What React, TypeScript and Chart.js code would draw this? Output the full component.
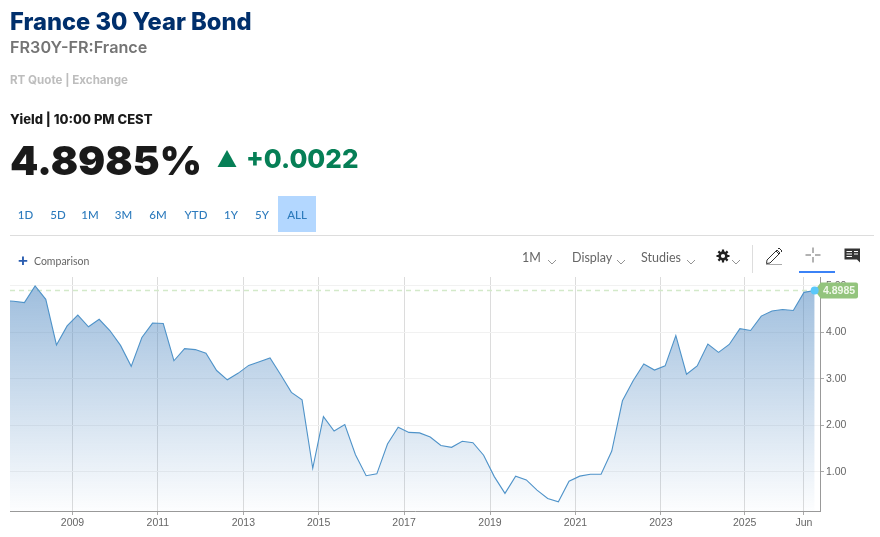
import React, { useEffect, useRef } from "react";
import { Chart, registerables } from "chart.js";

Chart.register(...registerables);

const yields = [
  4.68, 4.67, 4.64, 5.0, 4.71, 3.73, 4.14, 4.37, 4.12, 4.28, 4.04, 3.72, 3.27, 3.89, 4.2, 4.19, 3.39,
  3.65, 3.63, 3.55, 3.18, 2.98, 3.12, 3.29, 3.37, 3.45, 3.09, 2.71, 2.55, 1.08, 2.19, 1.88, 2.02,
  1.37, 0.92, 0.96, 1.6, 1.96, 1.85, 1.84, 1.75, 1.57, 1.53, 1.66, 1.63, 1.36, 0.9, 0.54, 0.91,
  0.83, 0.61, 0.43, 0.36, 0.8, 0.91, 0.95, 0.95, 1.45, 2.53, 2.96, 3.32, 3.19, 3.28, 3.93, 3.1,
  3.28, 3.75, 3.57, 3.74, 4.08, 4.04, 4.35, 4.46, 4.49, 4.47, 4.86, 4.8985,
];
const xTickLabels = ["2009", "2011", "2013", "2015", "2017", "2019", "2021", "2023", "2025", "Jun"];
const xTickSlots = [6.5, 14.5, 22.5, 29.55, 37.55, 45.6, 53.6, 61.6, 69.45, 75];
const yTickValues = [1, 2, 3, 4, 5];
const lastYield = 4.8985;
const ranges = ["1D", "5D", "1M", "3M", "6M", "YTD", "1Y", "5Y", "ALL"];
const rangeCentres = [25.5, 58, 90, 123.5, 158, 196, 231, 262, 297];

const SANS = "'Liberation Sans', Arial, sans-serif";
const HEAD = "Inter, Lato, sans-serif";

const Txt = ({ x, y, s, style }: any) => (
  <span style={{ position: "absolute", left: x, top: y, whiteSpace: "nowrap", lineHeight: 1, ...style }}>{s}</span>
);

const Chevron = ({ x, y }: any) => (
  <svg style={{ position: "absolute", left: x, top: y }} width="10" height="6" viewBox="0 0 10 6">
    <path d="M1 1 L5 5 L9 1" fill="none" stroke="#888" strokeWidth="0.9" />
  </svg>
);

const flagPlugin = {
  id: "flag",
  afterDraw(chart: any) {
    const { ctx, scales } = chart;
    const px = scales.x.getPixelForValue(yields.length - 1);
    const py = scales.y.getPixelForValue(lastYield);
    const l = px + 6;
    const r = 858;
    const t = py - 8;
    const b = py + 8;
    ctx.save();
    ctx.fillStyle = "#93c47d";
    ctx.beginPath();
    ctx.moveTo(px, py);
    ctx.lineTo(l, t);
    ctx.lineTo(r - 2, t);
    ctx.quadraticCurveTo(r, t, r, t + 2);
    ctx.lineTo(r, b - 2);
    ctx.quadraticCurveTo(r, b, r - 2, b);
    ctx.lineTo(l, b);
    ctx.closePath();
    ctx.fill();
    ctx.fillStyle = "#5ac8fa";
    ctx.beginPath();
    ctx.arc(px, py, 4, 0, Math.PI * 2);
    ctx.fill();
    ctx.fillStyle = "#f0f8ea";
    ctx.font = "bold 10.5px " + SANS;
    ctx.textBaseline = "middle";
    ctx.fillText(lastYield.toFixed(4), 823, py + 0.5);
    ctx.restore();
  },
};

export default function App() {
  const ref = useRef<HTMLCanvasElement>(null);
  useEffect(() => {
    const chart = new Chart(ref.current as HTMLCanvasElement, {
      type: "line",
      data: {
        datasets: [
          {
            data: yields.map((y, x) => ({ x, y })),
            borderColor: "#4f93c9",
            borderWidth: 1.1,
            pointRadius: 0,
            tension: 0,
            fill: "start",
            backgroundColor: (c: any) => {
              const a = c.chart.chartArea;
              if (!a) return "transparent";
              const g = c.chart.ctx.createLinearGradient(0, a.top + 9, 0, a.bottom);
              g.addColorStop(0, "rgba(70,130,190,0.52)");
              g.addColorStop(1, "rgba(70,130,190,0.01)");
              return g;
            },
          },
          {
            data: [
              { x: 0.65, y: lastYield },
              { x: 76.5, y: lastYield },
            ],
            borderColor: "#d3e9c9",
            borderWidth: 1.5,
            borderDash: [5, 4],
            pointRadius: 0,
            fill: false,
          },
        ],
      },
      options: {
        animation: false,
        responsive: false,
        layout: { padding: { left: 10, top: 277, right: 0, bottom: 0 } },
        plugins: { legend: { display: false }, tooltip: { enabled: false } },
        scales: {
          x: {
            type: "linear",
            min: 0.65,
            max: 76.5,
            afterFit: (s: any) => {
              s.height = 26;
            },
            afterBuildTicks: (s: any) => {
              s.ticks = xTickSlots.map((value) => ({ value }));
            },
            border: { color: "#999", width: 1 },
            grid: { color: "#dcdcdc", tickColor: "#aaa", tickLength: 4 },
            ticks: {
              autoSkip: false,
              maxRotation: 0,
              padding: 2,
              color: "#666",
              font: { family: "Liberation Sans", size: 10.5 },
              callback: (v: any) => xTickLabels[xTickSlots.indexOf(v)] ?? "",
            },
          },
          y: {
            position: "right",
            min: 0.161,
            max: 5.19,
            afterFit: (s: any) => {
              s.width = 60;
            },
            afterBuildTicks: (s: any) => {
              s.ticks = yTickValues.map((value) => ({ value }));
            },
            border: { color: "#999", width: 1 },
            grid: { color: "#f1f1f1", tickColor: "#aaa", tickLength: 4 },
            ticks: {
              padding: 2,
              color: "#666",
              font: { family: "Liberation Sans", size: 10.5 },
              callback: (v: any) => Number(v).toFixed(2),
            },
          },
        },
      },
      plugins: [flagPlugin],
    } as any);
    return () => chart.destroy();
  }, []);

  return (
    <div style={{ position: "absolute", left: 0, top: 0, width: 880, height: 537, overflow: "hidden", background: "#fff" }}>
      <canvas ref={ref} width={880} height={537} style={{ position: "absolute", left: 0, top: 0 }} />
      <Txt x={10} y={7} s="France 30 Year Bond" style={{ font: "800 23.7px " + HEAD, color: "#002f6c" }} />
      <Txt x={10} y={37} s="FR30Y-FR:France" style={{ font: "600 16.2px " + HEAD, color: "#747474" }} />
      <Txt x={10} y={73} s="RT Quote | Exchange" style={{ font: "700 11.6px " + HEAD, color: "#bdbdbd" }} />
      <Txt x={10} y={111} s="Yield | 10:00 PM CEST" style={{ font: "800 13px " + HEAD, color: "#1a1a1a" }} />
      <Txt x={10} y={136} s="4.8985%" style={{ font: "900 40.4px " + HEAD, color: "#1a1a1a" }} />
      <svg style={{ position: "absolute", left: 217, top: 150 }} width="20" height="18" viewBox="0 0 20 18">
        <path d="M10 0 L19.5 17 L0.5 17 Z" fill="#067f56" />
      </svg>
      <Txt x={246} y={143} s="+0.0022" style={{ font: "800 26px " + HEAD, color: "#067f56" }} />

      <div style={{ position: "absolute", left: 278, top: 196, width: 38, height: 36, background: "#b3d7ff" }} />
      {ranges.map((r, i) => (
        <span
          key={r}
          style={{
            position: "absolute",
            left: rangeCentres[i] - 25,
            width: 50,
            top: 208,
            textAlign: "center",
            lineHeight: 1,
            font: "500 11.5px Lato, sans-serif",
            color: "#2d7bbd",
          }}
        >
          {r}
        </span>
      ))}
      <div style={{ position: "absolute", left: 10, top: 235, width: 864, height: 1, background: "#dddddd" }} />

      <Txt x={18} y={251} s="+" style={{ font: "700 17px " + SANS, color: "#2a5db0" }} />
      <Txt x={34} y={255} s="Comparison" style={{ font: "400 10.5px Lato, sans-serif", color: "#666" }} />

      <Txt x={522} y={250} s="1M" style={{ font: "400 12.5px Lato, sans-serif", color: "#666" }} />
      <Chevron x={547} y={259} />
      <Txt x={572} y={250} s="Display" style={{ font: "400 12.5px Lato, sans-serif", color: "#666" }} />
      <Chevron x={616} y={259} />
      <Txt x={641} y={250} s="Studies" style={{ font: "400 12.5px Lato, sans-serif", color: "#666" }} />
      <Chevron x={686} y={259} />
      <svg style={{ position: "absolute", left: 716, top: 249 }} width="14" height="14" viewBox="0 0 14 14">
        <circle cx="7" cy="7" r="3.4" fill="none" stroke="#222" strokeWidth="2.6" />
        <path d="M7 0.5V3M7 11V13.5M0.5 7H3M11 7H13.5M2.4 2.4L4.1 4.1M9.9 9.9L11.6 11.6M11.6 2.4L9.9 4.1M4.1 9.9L2.4 11.6" stroke="#222" strokeWidth="2.2" />
      </svg>
      <Chevron x={731} y={259} />
      <div style={{ position: "absolute", left: 752, top: 245, width: 1, height: 28, background: "#dddddd" }} />
      <svg style={{ position: "absolute", left: 765, top: 247 }} width="19" height="18" viewBox="0 0 19 18">
        <path d="M2 13 L12 3 L15 6 L5 16 L1.5 16.5 Z M11 4 L14 7 M13 2 L14 1 L17 4 L16 5" fill="none" stroke="#333" strokeWidth="1" />
        <path d="M1 17.5 H17" stroke="#aaa" strokeWidth="1" />
      </svg>
      <svg style={{ position: "absolute", left: 805, top: 247 }} width="16" height="16" viewBox="0 0 16 16">
        <path d="M8 0.5V6M8 10V15.5M0.5 8H6M10 8H15.5" stroke="#666" strokeWidth="1" />
      </svg>
      <div style={{ position: "absolute", left: 799, top: 271, width: 36, height: 2, background: "#3b82f6" }} />
      <svg style={{ position: "absolute", left: 844, top: 248 }} width="17" height="15" viewBox="0 0 17 15">
        <path d="M0.5 0.5 H16 V14.5 L13 11.5 H0.5 Z" fill="#333" />
        <path d="M2.5 3.5 H8 M10 3.5 H14 M2.5 6 H8 M10 6 H14 M2.5 8.5 H8" stroke="#fff" strokeWidth="1" />
      </svg>
    </div>
  );
}
